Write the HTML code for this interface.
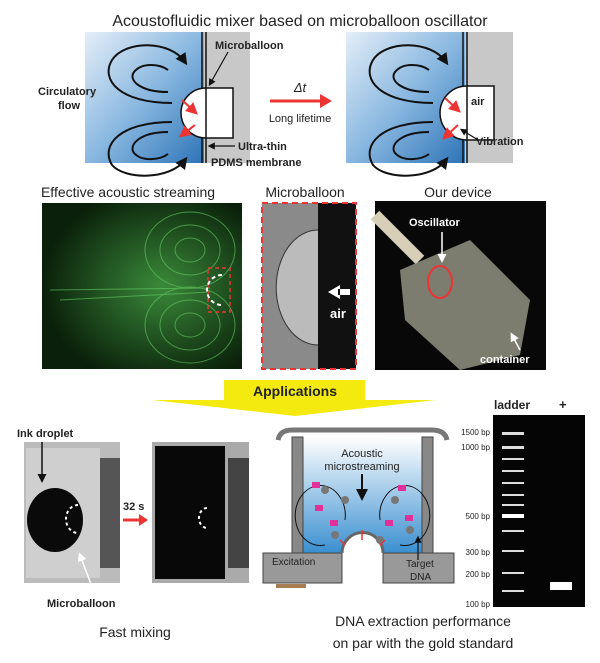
<!DOCTYPE html>
<html><head><meta charset="utf-8"><style>
html,body{margin:0;padding:0;background:#fff}
svg{display:block}
text{font-family:"Liberation Sans",sans-serif;fill:#222}
</style></head><body>
<svg width="600" height="663" viewBox="0 0 600 663" xmlns="http://www.w3.org/2000/svg">
<defs>
<linearGradient id="bl" x1="0" y1="0" x2="1" y2="1"><stop offset="0" stop-color="#e4eef8"/><stop offset="0.5" stop-color="#8ab8e0"/><stop offset="1" stop-color="#2d74b8"/></linearGradient>
<linearGradient id="bl2" x1="0" y1="0" x2="0" y2="1"><stop offset="0" stop-color="#fff"/><stop offset="1" stop-color="#3a8fd0"/></linearGradient>
<radialGradient id="gr" cx="0.6" cy="0.5" r="0.6"><stop offset="0" stop-color="#3a8a3a"/><stop offset="1" stop-color="#0a200a"/></radialGradient>
<marker id="ah" markerWidth="6" markerHeight="6" refX="4" refY="3" orient="auto"><path d="M0,0L6,3L0,6z" fill="#111"/></marker>
<marker id="ar" markerWidth="6" markerHeight="6" refX="4" refY="3" orient="auto"><path d="M0,0L6,3L0,6z" fill="#e33"/></marker>
<marker id="aw" markerWidth="6" markerHeight="6" refX="4" refY="3" orient="auto"><path d="M0,0L6,3L0,6z" fill="#fff"/></marker>
</defs>
<text x="300" y="26" font-size="16" text-anchor="middle">Acoustofluidic mixer based on microballoon oscillator</text>
<!-- left diagram -->
<rect x="85" y="32" width="119" height="131" fill="url(#bl)"/>
<rect x="204" y="32" width="46" height="131" fill="#c8c8c8"/>
<line x1="202" y1="32" x2="202" y2="163" stroke="#111" stroke-width="1.5"/>
<line x1="206" y1="32" x2="206" y2="163" stroke="#111" stroke-width="1.5"/>
<path d="M206,88 a25,25 0 0 0 0,50" fill="#fff" stroke="#111" stroke-width="1.5"/>
<rect x="206" y="88" width="27" height="50" fill="#fff" stroke="#111" stroke-width="1.5"/>
<g fill="none" stroke="#111" stroke-width="2">
<path d="M172,103 C120,103 100,80 112,60 C125,40 170,40 185,62" marker-end="url(#ah)"/>
<path d="M168,92 C140,92 128,80 134,72 C142,62 160,64 168,70"/>
<path d="M172,122 C120,122 100,145 112,165 C125,180 170,180 185,160" marker-end="url(#ah)"/>
<path d="M168,132 C140,132 128,145 134,153 C142,162 160,160 168,154"/>
</g>
<g stroke="#e33" stroke-width="2"><line x1="182" y1="100" x2="195" y2="112" marker-end="url(#ar)"/><line x1="195" y1="125" x2="182" y2="135" marker-end="url(#ar)"/></g>
<line x1="228" y1="52" x2="210" y2="84" stroke="#111" stroke-width="1.2" marker-end="url(#ah)"/>
<line x1="235" y1="146" x2="210" y2="146" stroke="#111" stroke-width="1.2" marker-end="url(#ah)"/>
<text x="215" y="49" font-size="11" font-weight="bold">Microballoon</text>
<text x="38" y="95" font-size="11" font-weight="bold">Circulatory</text>
<text x="58" y="109" font-size="11" font-weight="bold">flow</text>
<text x="238" y="150" font-size="11" font-weight="bold">Ultra-thin</text>
<text x="211" y="166" font-size="11" font-weight="bold">PDMS membrane</text>
<!-- arrow -->
<text x="300" y="92" font-size="13" text-anchor="middle" font-style="italic">Δt</text>
<line x1="270" y1="101" x2="322" y2="101" stroke="#e33" stroke-width="3"/>
<path d="M320,94L332,101L320,108z" fill="#e33"/>
<text x="300" y="122" font-size="11" text-anchor="middle">Long lifetime</text>
<!-- right diagram -->
<rect x="346" y="32" width="119" height="131" fill="url(#bl)"/>
<rect x="465" y="32" width="48" height="131" fill="#c8c8c8"/>
<line x1="463" y1="32" x2="463" y2="163" stroke="#111" stroke-width="1.5"/>
<line x1="467" y1="32" x2="467" y2="163" stroke="#111" stroke-width="1.5"/>
<path d="M467,86 a27,27 0 0 0 0,54" fill="#fff" stroke="#111" stroke-width="1.5"/>
<rect x="467" y="86" width="27" height="54" fill="#fff" stroke="#111" stroke-width="1.5"/>
<g fill="none" stroke="#111" stroke-width="2">
<path d="M433,103 C381,103 361,80 373,60 C386,40 431,40 446,62" marker-end="url(#ah)"/>
<path d="M429,92 C401,92 389,80 395,72 C403,62 421,64 429,70"/>
<path d="M433,122 C381,122 361,145 373,165 C386,180 431,180 446,160" marker-end="url(#ah)"/>
<path d="M429,132 C401,132 389,145 395,153 C403,162 421,160 429,154"/>
</g>
<g stroke="#e33" stroke-width="2"><line x1="445" y1="98" x2="458" y2="110" marker-end="url(#ar)"/><line x1="458" y1="125" x2="445" y2="137" marker-end="url(#ar)"/></g>
<line x1="478" y1="140" x2="462" y2="130" stroke="#111" stroke-width="1.2" marker-end="url(#ah)"/>
<text x="471" y="105" font-size="11" font-weight="bold">air</text>
<text x="476" y="145" font-size="11" font-weight="bold">Vibration</text>
<!-- middle row -->
<text x="128" y="197" font-size="14" text-anchor="middle">Effective acoustic streaming</text>
<text x="305" y="197" font-size="14" text-anchor="middle">Microballoon</text>
<text x="458" y="197" font-size="14" text-anchor="middle">Our device</text>
<rect x="42" y="203" width="200" height="166" fill="url(#gr)"/>
<g fill="none" stroke="#6c6" stroke-width="1" opacity="0.6">
<ellipse cx="190" cy="250" rx="30" ry="25"/><ellipse cx="190" cy="250" rx="45" ry="38"/><ellipse cx="190" cy="250" rx="15" ry="12"/>
<ellipse cx="190" cy="325" rx="30" ry="25"/><ellipse cx="190" cy="325" rx="45" ry="38"/><ellipse cx="190" cy="325" rx="15" ry="12"/>
<path d="M50,290 L210,288 M60,300 L210,292"/>
</g>
<rect x="208" y="268" width="22" height="44" fill="none" stroke="#e33" stroke-width="1.5" stroke-dasharray="4,3"/>
<path d="M222,275 a14,14 0 0 0 0,30" fill="none" stroke="#fff" stroke-width="2" stroke-dasharray="4,3"/>
<rect x="262" y="203" width="94" height="166" fill="#8a8a8a"/>
<rect x="318" y="203" width="38" height="166" fill="#111"/>
<path d="M318,230 a40,55 0 0 0 0,115" fill="#bbb" stroke="#333"/>
<text x="330" y="318" font-size="13" font-weight="bold" style="fill:#fff">air</text>
<path d="M340,285 L328,292 L340,299 z M338,289 h12 v6 h-12z" fill="#fff"/>
<rect x="262" y="203" width="94" height="166" fill="none" stroke="#e33" stroke-width="2" stroke-dasharray="6,4"/>
<rect x="375" y="201" width="171" height="169" fill="#080808"/>
<path d="M375,215 L420,260" stroke="#d8cfb8" stroke-width="12"/>
<path d="M400,270 L470,240 L530,300 L520,355 L460,370 L405,320z" fill="#9a9a8a" opacity="0.8"/>
<ellipse cx="440" cy="282" rx="12" ry="16" fill="none" stroke="#e33" stroke-width="2"/>
<line x1="442" y1="232" x2="442" y2="260" stroke="#fff" stroke-width="1.5" marker-end="url(#aw)"/>
<line x1="520" y1="350" x2="512" y2="335" stroke="#fff" stroke-width="1.5" marker-end="url(#aw)"/>
<text x="409" y="226" font-size="11" font-weight="bold" style="fill:#fff">Oscillator</text>
<text x="480" y="363" font-size="11" font-weight="bold" style="fill:#fff">container</text>
<!-- applications -->
<rect x="224" y="380" width="141" height="22" fill="#f5ea10"/>
<path d="M152,400 L436,400 L295,416z" fill="#f5ea10"/>
<text x="295" y="396" font-size="14" font-weight="bold" text-anchor="middle">Applications</text>
<!-- ink -->
<rect x="24" y="442" width="96" height="141" fill="#bbb"/>
<rect x="26" y="448" width="74" height="130" fill="#cfcfcf"/>
<ellipse cx="55" cy="520" rx="28" ry="32" fill="#0a0a0a"/>
<path d="M78,505 a12,14 0 0 0 0,28" fill="none" stroke="#fff" stroke-width="2" stroke-dasharray="3,3"/>
<rect x="100" y="458" width="20" height="110" fill="#555"/>
<line x1="42" y1="442" x2="42" y2="480" stroke="#111" stroke-width="1.5" marker-end="url(#ah)"/>
<line x1="95" y1="595" x2="80" y2="555" stroke="#fff" stroke-width="1.5" marker-end="url(#aw)"/>
<text x="17" y="437" font-size="11" font-weight="bold">Ink droplet</text>
<text x="47" y="607" font-size="11" font-weight="bold">Microballoon</text>
<rect x="152" y="442" width="97" height="141" fill="#aaa"/>
<rect x="155" y="446" width="70" height="133" fill="#080808"/>
<path d="M207,508 a8,10 0 0 0 0,20" fill="none" stroke="#fff" stroke-width="2" stroke-dasharray="3,3"/>
<rect x="228" y="458" width="21" height="110" fill="#444"/>
<text x="123" y="510" font-size="11" font-weight="bold">32 s</text>
<line x1="123" y1="520" x2="140" y2="520" stroke="#e33" stroke-width="3"/>
<path d="M139,514L148,520L139,526z" fill="#e33"/>
<text x="135" y="637" font-size="14" text-anchor="middle">Fast mixing</text>
<!-- schematic -->
<path d="M278,440 Q280,430 292,430 L432,430 Q445,430 447,440" fill="none" stroke="#777" stroke-width="5"/>
<rect x="303" y="437" width="119" height="116" fill="url(#bl2)"/>
<rect x="292" y="437" width="11" height="116" fill="#888" stroke="#444"/>
<rect x="422" y="437" width="11" height="116" fill="#888" stroke="#444"/>
<rect x="263" y="553" width="79" height="30" fill="#999" stroke="#444"/>
<rect x="383" y="553" width="71" height="30" fill="#999" stroke="#444"/>
<path d="M342,553 a20,20 0 0 1 41,0" fill="#fff" stroke="#666" stroke-width="3"/>
<rect x="276" y="584" width="30" height="4" fill="#a67c52"/>
<g fill="none" stroke="#111" stroke-width="1"><path d="M345,520 a25,30 0 1 0 -20,25"/><path d="M380,520 a25,30 0 1 1 20,25"/></g>
<text x="362" y="457" font-size="11" text-anchor="middle">Acoustic</text>
<text x="362" y="470" font-size="11" text-anchor="middle">microstreaming</text>
<line x1="362" y1="474" x2="362" y2="497" stroke="#111" stroke-width="2" marker-end="url(#ah)"/>
<g fill="#e0309a"><rect x="312" y="482" width="8" height="6"/><rect x="315" y="505" width="8" height="6"/><rect x="398" y="485" width="8" height="6"/><rect x="405" y="515" width="8" height="6"/><rect x="330" y="520" width="8" height="6"/><rect x="385" y="520" width="8" height="6"/></g>
<g fill="#777"><circle cx="325" cy="490" r="4"/><circle cx="345" cy="500" r="4"/><circle cx="335" cy="535" r="4"/><circle cx="395" cy="500" r="4"/><circle cx="410" cy="530" r="4"/><circle cx="380" cy="540" r="4"/></g>
<g stroke="#e33" stroke-width="1.5"><line x1="362" y1="530" x2="362" y2="540"/><line x1="345" y1="545" x2="340" y2="540"/><line x1="380" y1="545" x2="385" y2="540"/></g>
<line x1="418" y1="560" x2="418" y2="538" stroke="#111" stroke-width="1.2" marker-end="url(#ah)"/>
<text x="272" y="565" font-size="10">Excitation</text>
<text x="406" y="567" font-size="10">Target</text>
<text x="410" y="580" font-size="10">DNA</text>
<!-- gel -->
<rect x="493" y="415" width="92" height="192" fill="#050505"/>
<g fill="#ddd"><rect x="502" y="432" width="22" height="3"/><rect x="502" y="446" width="22" height="3"/><rect x="502" y="458" width="22" height="2"/><rect x="502" y="470" width="22" height="2"/><rect x="502" y="482" width="22" height="2"/><rect x="502" y="494" width="22" height="2"/><rect x="502" y="504" width="22" height="2"/><rect x="502" y="514" width="22" height="4" fill="#fff"/><rect x="502" y="530" width="22" height="2"/><rect x="502" y="550" width="22" height="2"/><rect x="502" y="572" width="22" height="2"/><rect x="502" y="590" width="22" height="2"/><rect x="550" y="582" width="22" height="8" fill="#fff"/></g>
<text x="494" y="409" font-size="12" font-weight="bold">ladder</text>
<text x="559" y="409" font-size="13" font-weight="bold">+</text>
<g font-size="8" text-anchor="end"><text x="490" y="435">1500 bp</text><text x="490" y="450">1000 bp</text><text x="490" y="519">500 bp</text><text x="490" y="555">300 bp</text><text x="490" y="577">200 bp</text><text x="490" y="607">100 bp</text></g>
<text x="423" y="626" font-size="14" text-anchor="middle">DNA extraction performance</text>
<text x="423" y="648" font-size="14" text-anchor="middle">on par with the gold standard</text>
</svg>
</body></html>
